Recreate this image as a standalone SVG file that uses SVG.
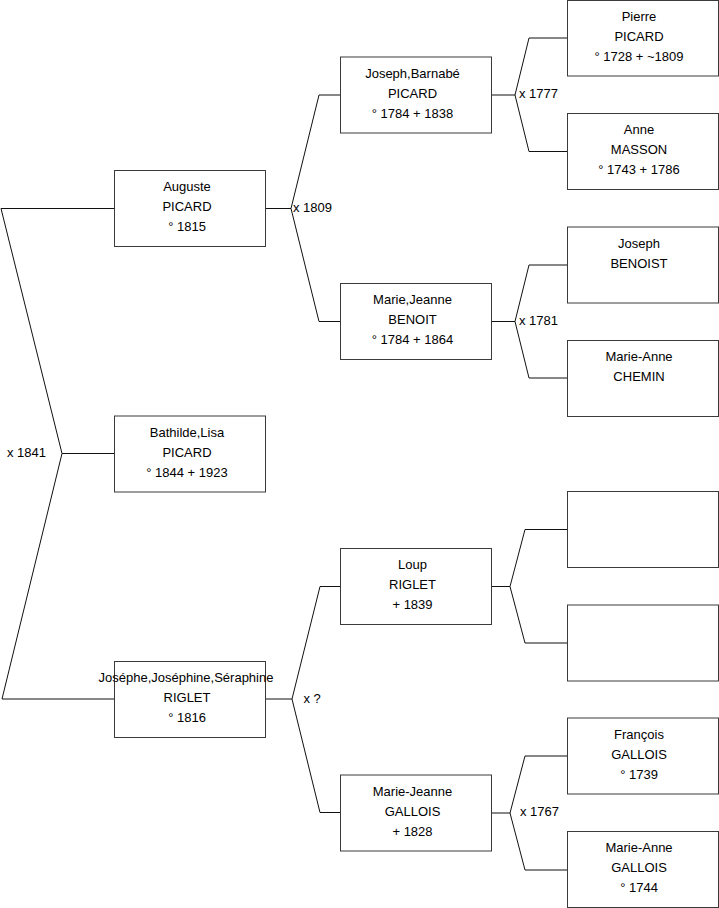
<svg xmlns="http://www.w3.org/2000/svg" width="719" height="908" viewBox="0 0 719 908">
<style>
.box{fill:#fff;stroke:#3a3a3a;stroke-width:1}
.t{font-family:"Liberation Sans",Arial,sans-serif;font-size:13px;fill:#000;text-anchor:middle}
.l{font-family:"Liberation Sans",Arial,sans-serif;font-size:13px;fill:#000}
.c{fill:none;stroke:#111;stroke-width:1}
</style>
<rect width="719" height="908" fill="#fff"/>
<g id="connectors">
<polyline class="c" points="114,208.5 1,208.5 62,453.5 2,699 114,699"/>
<line class="c" x1="62" y1="453.5" x2="114" y2="453.5"/>
<polyline class="c" points="265,208.5 291,208.5"/>
<polyline class="c" points="340.5,95 319,95 291,208.5 319,321.5 340.5,321.5"/>
<polyline class="c" points="265,699 292,699"/>
<polyline class="c" points="340.5,586.5 320,586.5 292,699 320,812.5 340.5,812.5"/>
<polyline class="c" points="491.5,95 515,95"/>
<polyline class="c" points="567,38 529,38 515,95 529,151.5 567,151.5"/>
<polyline class="c" points="491.5,321.5 515,321.5"/>
<polyline class="c" points="567,265 529,265 515,321.5 529,378 567,378"/>
<polyline class="c" points="491.5,586.5 510,586.5"/>
<polyline class="c" points="567,529.5 525,529.5 510,586.5 525,643 567,643"/>
<polyline class="c" points="491.5,813 510,813"/>
<polyline class="c" points="567,756 525,756 510,813 525,870 567,870"/>
<text class="l" x="7" y="457">x 1841</text>
<text class="l" x="293" y="211.5">x 1809</text>
<text class="l" x="519" y="97.5">x 1777</text>
<text class="l" x="519" y="325">x 1781</text>
<text class="l" x="303.5" y="702.5">x ?</text>
<text class="l" x="520" y="815.5">x 1767</text>
</g>
<g id="auguste">
<rect class="box" x="114.5" y="170.5" width="151" height="76"/>
<text class="t" x="187" y="191">Auguste</text>
<text class="t" x="187" y="211">PICARD</text>
<text class="t" x="187" y="231">° 1815</text>
</g>
<g id="bathilde">
<rect class="box" x="114.5" y="416" width="151" height="76"/>
<text class="t" x="187" y="436.5">Bathilde,Lisa</text>
<text class="t" x="187" y="456.5">PICARD</text>
<text class="t" x="187" y="476.5">° 1844 + 1923</text>
</g>
<g id="josephe">
<rect class="box" x="114.5" y="661.5" width="151" height="76"/>
<text class="t" x="186" y="682">Joséphe,Joséphine,Séraphine</text>
<text class="t" x="187" y="702">RIGLET</text>
<text class="t" x="187" y="722">° 1816</text>
</g>
<g id="joseph-barnabe">
<rect class="box" x="340.5" y="57" width="151" height="76"/>
<text class="t" x="412.5" y="77.5">Joseph,Barnabé</text>
<text class="t" x="412.5" y="97.5">PICARD</text>
<text class="t" x="412.5" y="117.5">° 1784 + 1838</text>
</g>
<g id="marie-jeanne-benoit">
<rect class="box" x="340.5" y="283.5" width="151" height="76"/>
<text class="t" x="412.5" y="304">Marie,Jeanne</text>
<text class="t" x="412.5" y="324">BENOIT</text>
<text class="t" x="412.5" y="344">° 1784 + 1864</text>
</g>
<g id="loup">
<rect class="box" x="340.5" y="548.5" width="151" height="76"/>
<text class="t" x="412.5" y="569">Loup</text>
<text class="t" x="412.5" y="589">RIGLET</text>
<text class="t" x="412.5" y="609">+ 1839</text>
</g>
<g id="marie-jeanne-gallois">
<rect class="box" x="340.5" y="775" width="151" height="76"/>
<text class="t" x="412.5" y="795.5">Marie-Jeanne</text>
<text class="t" x="412.5" y="815.5">GALLOIS</text>
<text class="t" x="412.5" y="835.5">+ 1828</text>
</g>
<g id="pierre">
<rect class="box" x="567.5" y="0.5" width="151" height="75.5"/>
<text class="t" x="639" y="21">Pierre</text>
<text class="t" x="639" y="41">PICARD</text>
<text class="t" x="639" y="61">° 1728 + ~1809</text>
</g>
<g id="anne">
<rect class="box" x="567.5" y="113.5" width="151" height="76"/>
<text class="t" x="639" y="134">Anne</text>
<text class="t" x="639" y="154">MASSON</text>
<text class="t" x="639" y="174">° 1743 + 1786</text>
</g>
<g id="joseph-benoist">
<rect class="box" x="567.5" y="227" width="151" height="76"/>
<text class="t" x="639" y="247.5">Joseph</text>
<text class="t" x="639" y="267.5">BENOIST</text>
</g>
<g id="marie-anne-chemin">
<rect class="box" x="567.5" y="340.5" width="151" height="76"/>
<text class="t" x="639" y="361">Marie-Anne</text>
<text class="t" x="639" y="381">CHEMIN</text>
</g>
<g id="unknown-1">
<rect class="box" x="567.5" y="491.5" width="151" height="76"/>
</g>
<g id="unknown-2">
<rect class="box" x="567.5" y="605" width="151" height="76"/>
</g>
<g id="francois">
<rect class="box" x="567.5" y="718" width="151" height="76"/>
<text class="t" x="639" y="738.5">François</text>
<text class="t" x="639" y="758.5">GALLOIS</text>
<text class="t" x="639" y="778.5">° 1739</text>
</g>
<g id="marie-anne-gallois">
<rect class="box" x="567.5" y="831.5" width="151" height="76"/>
<text class="t" x="639" y="852">Marie-Anne</text>
<text class="t" x="639" y="872">GALLOIS</text>
<text class="t" x="639" y="892">° 1744</text>
</g>
</svg>
